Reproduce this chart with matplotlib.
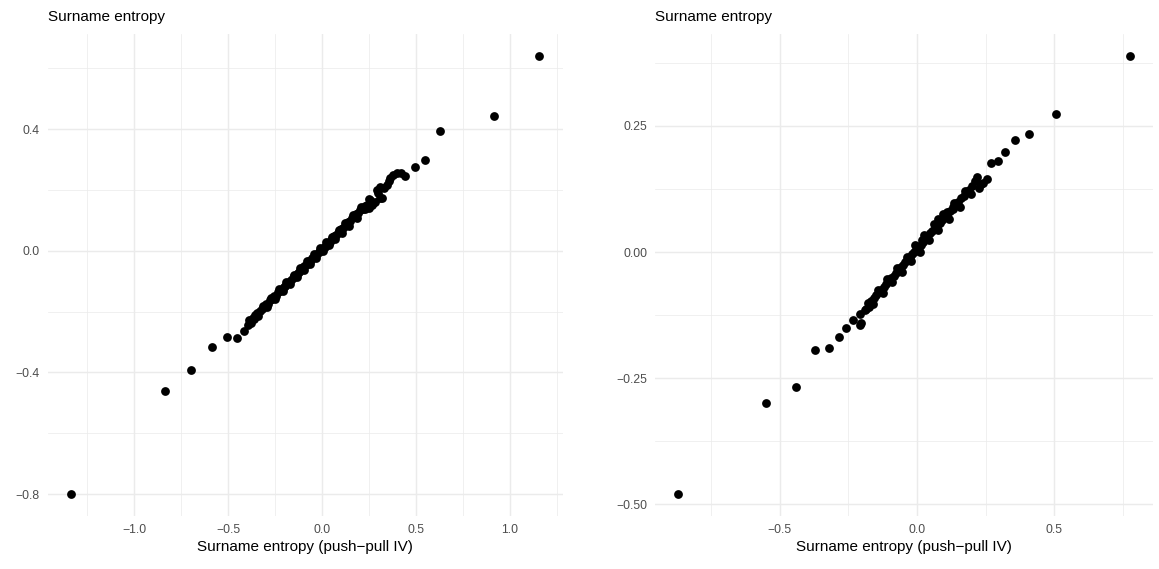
import matplotlib.pyplot as plt
from matplotlib.ticker import FixedLocator

plt.rcParams['font.family'] = ['Liberation Sans', 'DejaVu Sans']

# Panel 1 (left): surname entropy vs push-pull IV
left_x = [-1.337, -0.838, -0.699, -0.584, -0.508, -0.451, -0.416,
          -0.395, -0.380, -0.370, -0.355, -0.345, -0.332, -0.320, -0.310, -0.298, -0.287,
          -0.275, -0.266, -0.255, -0.244, -0.236, -0.225, -0.214, -0.205, -0.196, -0.186,
          -0.176, -0.166, -0.157, -0.148, -0.139, -0.130, -0.121, -0.112, -0.104, -0.095,
          -0.086, -0.077, -0.069, -0.060, -0.052, -0.043, -0.035, -0.027, -0.018, -0.010,
          -0.002, 0.006, 0.014, 0.023, 0.031, 0.040, 0.048, 0.057, 0.066, 0.075,
          0.084, 0.093, 0.102, 0.112, 0.121, 0.131, 0.141, 0.151, 0.162, 0.172,
          0.183, 0.194, 0.205, 0.217, 0.229, 0.241, 0.249, 0.258, 0.267, 0.280,
          0.293, 0.311, 0.320, 0.311, 0.347, 0.364, 0.380, 0.400, 0.420, 0.440,
          0.494, 0.547, 0.627, 0.918, 1.157,
          -0.390, -0.362, -0.340, -0.315, -0.292, -0.270, -0.248, -0.228, -0.208, -0.190,
          -0.170, -0.150, -0.133, -0.115, -0.098, -0.080, -0.063, -0.045, -0.030, -0.012,
          0.004, 0.020, 0.036, 0.052, 0.070, 0.088, 0.106, 0.125, 0.145, 0.165,
          0.186, 0.208, 0.230, 0.250, 0.272, 0.300, 0.330, 0.355]
left_y = [-0.800, -0.461, -0.391, -0.315, -0.282, -0.287, -0.265,
          -0.243, -0.236, -0.221, -0.212, -0.205, -0.198, -0.190, -0.184, -0.176, -0.175,
          -0.163, -0.160, -0.150, -0.148, -0.136, -0.131, -0.127, -0.119, -0.116, -0.106,
          -0.101, -0.096, -0.090, -0.083, -0.080, -0.072, -0.068, -0.062, -0.057, -0.050,
          -0.046, -0.041, -0.035, -0.031, -0.025, -0.020, -0.016, -0.009, -0.005, 0.000,
          0.004, 0.010, 0.013, 0.020, 0.025, 0.029, 0.036, 0.041, 0.048, 0.052,
          0.059, 0.063, 0.071, 0.075, 0.083, 0.087, 0.095, 0.099, 0.108, 0.112,
          0.121, 0.125, 0.134, 0.138, 0.149, 0.152, 0.140, 0.168, 0.150, 0.160,
          0.200, 0.173, 0.175, 0.211, 0.217, 0.239, 0.250, 0.256, 0.257, 0.247,
          0.275, 0.299, 0.395, 0.444, 0.641,
          -0.228, -0.224, -0.214, -0.181, -0.186, -0.155, -0.158, -0.126, -0.132, -0.104,
          -0.110, -0.078, -0.087, -0.056, -0.064, -0.034, -0.044, -0.012, -0.024, 0.010,
          -0.002, 0.029, 0.018, 0.046, 0.039, 0.069, 0.060, 0.093, 0.083, 0.117,
          0.108, 0.143, 0.136, 0.172, 0.158, 0.190, 0.205, 0.228]

# Panel 2 (right)
right_x = [-0.872, -0.550, -0.440, -0.370, -0.320, -0.286, -0.259, -0.232, -0.206, -0.203,
           -0.209, -0.191, -0.185, -0.175, -0.166, -0.157, -0.148, -0.139, -0.130, -0.121,
           -0.112, -0.103, -0.094, -0.085, -0.077, -0.068, -0.060, -0.051, -0.043, -0.035,
           -0.026, -0.018, -0.010, -0.002, 0.006, 0.014, 0.018, 0.022, 0.030, 0.038,
           0.047, 0.055, 0.064, 0.073, 0.078, 0.082, 0.091, 0.100, 0.108, 0.110,
           0.120, 0.131, 0.130, 0.140, 0.150, 0.160, 0.170, 0.180, 0.190, 0.199,
           0.219, 0.233, 0.239, 0.253, 0.271, 0.295, 0.322, 0.358, 0.406, 0.505, 0.777,
           -0.180, -0.160, -0.142, -0.125, -0.108, -0.090, -0.072, -0.055, -0.038, -0.022,
           -0.006, 0.010, 0.026, 0.042, 0.060, 0.077, 0.095, 0.115, 0.135, 0.155,
           0.175, 0.195, 0.210, 0.225]
right_y = [-0.480, -0.299, -0.268, -0.195, -0.190, -0.168, -0.150, -0.134, -0.145, -0.141,
           -0.122, -0.115, -0.112, -0.108, -0.097, -0.092, -0.086, -0.080, -0.075, -0.069,
           -0.063, -0.058, -0.052, -0.047, -0.041, -0.037, -0.030, -0.026, -0.019, -0.015,
           -0.010, -0.004, 0.001, 0.005, 0.011, 0.014, 0.024, 0.020, 0.027, 0.030,
           0.037, 0.041, 0.048, 0.052, 0.065, 0.058, 0.064, 0.070, 0.080, 0.074,
           0.081, 0.090, 0.086, 0.094, 0.099, 0.107, 0.111, 0.119, 0.124, 0.131,
           0.149, 0.135, 0.136, 0.144, 0.176, 0.181, 0.199, 0.222, 0.235, 0.274, 0.389,
           -0.101, -0.104, -0.075, -0.081, -0.054, -0.060, -0.032, -0.040, -0.010, -0.018,
           0.014, 0.001, 0.034, 0.024, 0.056, 0.043, 0.075, 0.066, 0.098, 0.090,
           0.122, 0.116, 0.140, 0.128]

panel_title = "Surname entropy"
x_title = "Surname entropy (push\u2212pull IV)"

left_xbreaks = [-1.0, -0.5, 0.0, 0.5, 1.0]
left_xminor = [-1.25, -0.75, -0.25, 0.25, 0.75, 1.25]
left_ybreaks = [-0.8, -0.4, 0.0, 0.4]
left_yminor = [-0.6, -0.2, 0.2, 0.6]
right_xbreaks = [-0.5, 0.0, 0.5]
right_xminor = [-0.75, -0.25, 0.25, 0.75]
right_ybreaks = [-0.50, -0.25, 0.0, 0.25]
right_yminor = [-0.375, -0.125, 0.125, 0.375]


def fmt(v, nd):
    s = f"{v:.{nd}f}"
    return s.replace("-", "\u2212")


def expand(vals):
    lo, hi = min(vals), max(vals)
    pad = (hi - lo) * 0.05
    return lo - pad, hi + pad


def draw_panel(ax, xs, ys, xb, xm, yb, ym, xd, yd):
    ax.scatter(xs, ys, s=40, color="black", linewidths=0, zorder=3)
    ax.set_xlim(*expand(xs))
    ax.set_ylim(*expand(ys))
    ax.xaxis.set_major_locator(FixedLocator(xb))
    ax.xaxis.set_minor_locator(FixedLocator(xm))
    ax.yaxis.set_major_locator(FixedLocator(yb))
    ax.yaxis.set_minor_locator(FixedLocator(ym))
    ax.set_xticklabels([fmt(v, xd) for v in xb])
    ax.set_yticklabels([fmt(v, yd) for v in yb])
    ax.grid(which="major", color="#EBEBEB", linewidth=1.07)
    ax.grid(which="minor", color="#EBEBEB", linewidth=0.53)
    ax.set_axisbelow(True)
    for sp in ax.spines.values():
        sp.set_visible(False)
    ax.tick_params(which="both", length=0, pad=5.5, labelsize=8.8, labelcolor="#4D4D4D")
    ax.set_xlabel(x_title, fontsize=11, labelpad=3.5)
    ax.set_title(panel_title, loc="left", fontsize=11, pad=9)


fig = plt.figure(figsize=(11.59, 5.69), dpi=100)
W, H = 1159, 569
ax1 = fig.add_axes([47.6 / W, (H - 516) / H, 515 / W, 482 / H])
ax2 = fig.add_axes([655 / W, (H - 516) / H, 498 / W, 482 / H])

draw_panel(ax1, left_x, left_y, left_xbreaks, left_xminor, left_ybreaks, left_yminor, 1, 1)
draw_panel(ax2, right_x, right_y, right_xbreaks, right_xminor, right_ybreaks, right_yminor, 1, 2)

fig.savefig("out.png", dpi=100)
